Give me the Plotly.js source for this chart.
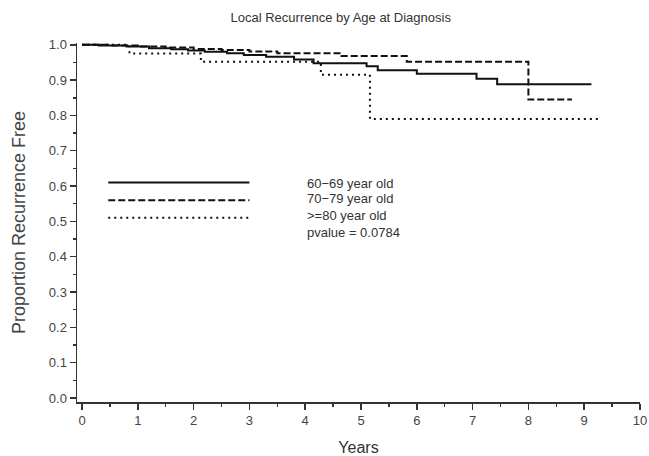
<!DOCTYPE html>
<html>
<head>
<meta charset="utf-8">
<script src="https://cdn.plot.ly/plotly-3.0.1.min.js"></script>
<style>html,body{margin:0;padding:0;background:#fff}#chart{width:649px;height:456px}</style>
</head>
<body>
<div id="chart"></div>
<script>
// Kaplan-Meier step data (time in years, proportion recurrence free)
const age6069Times  = [0, 0.3, 0.8, 1.2, 1.6, 1.9, 2.2, 2.6, 2.9, 3.3, 3.8, 4.15, 5.1, 5.3, 6.0, 7.07, 7.44, 9.13];
const age6069Values = [1.0, 0.998, 0.995, 0.99, 0.987, 0.984, 0.98, 0.976, 0.971, 0.966, 0.958, 0.948, 0.939, 0.928, 0.918, 0.904, 0.888, 0.888];

const age7079Times  = [0, 0.5, 1.0, 1.5, 2.0, 2.5, 3.0, 3.5, 4.65, 5.82, 8.0, 8.78];
const age7079Values = [1.0, 0.998, 0.995, 0.992, 0.988, 0.985, 0.981, 0.976, 0.968, 0.952, 0.845, 0.845];

const age80Times  = [0, 0.85, 2.13, 4.28, 5.16, 9.3];
const age80Values = [1.0, 0.975, 0.952, 0.915, 0.79, 0.79];

const seriesNames = ["60\u221269 year old", "70\u221279 year old", ">=80 year old"];
const pvalueLabel = "pvalue = 0.0784";

const xTickVals = [0,1,2,3,4,5,6,7,8,9,10];
const yTickVals = [0,0.1,0.2,0.3,0.4,0.5,0.6,0.7,0.8,0.9,1.0];

// legend sample lines (data coordinates)
const legendLineX = [0.47, 3.0];
const legendLineY = [0.61, 0.56, 0.51];
const legendTextX = 4.0;
const legendTextY = [0.606, 0.566, 0.518, 0.468];

const lineColor = "#111";
const dashes = ["solid", "7px,3px", "2px,4px"];
const widths = [2, 2, 2];

const series = [
  [age6069Times, age6069Values],
  [age7079Times, age7079Values],
  [age80Times, age80Values]
];

const traces = [];
series.forEach((s, i) => {
  traces.push({
    x: s[0], y: s[1], type: "scatter", mode: "lines",
    line: {shape: "hv", color: lineColor, width: widths[i], dash: dashes[i]},
    name: seriesNames[i], showlegend: false, hoverinfo: "skip"
  });
  traces.push({
    x: legendLineX, y: [legendLineY[i], legendLineY[i]], type: "scatter", mode: "lines",
    line: {color: lineColor, width: widths[i], dash: dashes[i]},
    showlegend: false, hoverinfo: "skip"
  });
});

const font = "Liberation Sans, Arial, sans-serif";
const labels = seriesNames.concat([pvalueLabel]);
const annotations = labels.map((t, i) => ({
  x: legendTextX, y: legendTextY[i], xref: "x", yref: "y",
  text: t, showarrow: false, xanchor: "left", yanchor: "middle",
  font: {family: font, size: 13, color: "#333"}
}));

const layout = {
  width: 649, height: 456,
  margin: {l: 77, r: 9, t: 43, b: 54},
  paper_bgcolor: "#fff", plot_bgcolor: "#fff",
  title: {text: "Local Recurrence by Age at Diagnosis", x: 0.525, xref: "container", xanchor: "center",
          y: 0.962, yref: "container", yanchor: "middle",
          font: {family: font, size: 13, color: "#333"}},
  xaxis: {
    range: [-0.09, 10.0], showgrid: false, zeroline: false,
    showline: true, linecolor: "#333", linewidth: 1.5,
    tickvals: xTickVals, ticks: "outside", ticklen: 6, tickwidth: 1.5, tickcolor: "#333",
    minor: {dtick: 0.5, ticks: "outside", ticklen: 3, tickwidth: 1.5, tickcolor: "#333", showgrid: false},
    tickfont: {family: font, size: 13, color: "#444"},
    title: {text: "Years", font: {family: font, size: 16, color: "#333"}, standoff: 14}
  },
  yaxis: {
    range: [-0.0113, 1.005], showgrid: false, zeroline: false,
    showline: true, linecolor: "#333", linewidth: 1.5,
    tickvals: yTickVals, tickformat: ".1f", ticks: "outside", ticklen: 6, tickwidth: 1.5, tickcolor: "#333",
    minor: {dtick: 0.05, ticks: "outside", ticklen: 3, tickwidth: 1.5, tickcolor: "#333", showgrid: false},
    tickfont: {family: font, size: 13, color: "#444"},
    title: {text: "Proportion Recurrence Free", font: {family: font, size: 18, color: "#444"}, standoff: 18}
  },
  annotations: annotations,
  showlegend: false
};

Plotly.newPlot("chart", traces, layout, {displayModeBar: false, staticPlot: true});
</script>
</body>
</html>
